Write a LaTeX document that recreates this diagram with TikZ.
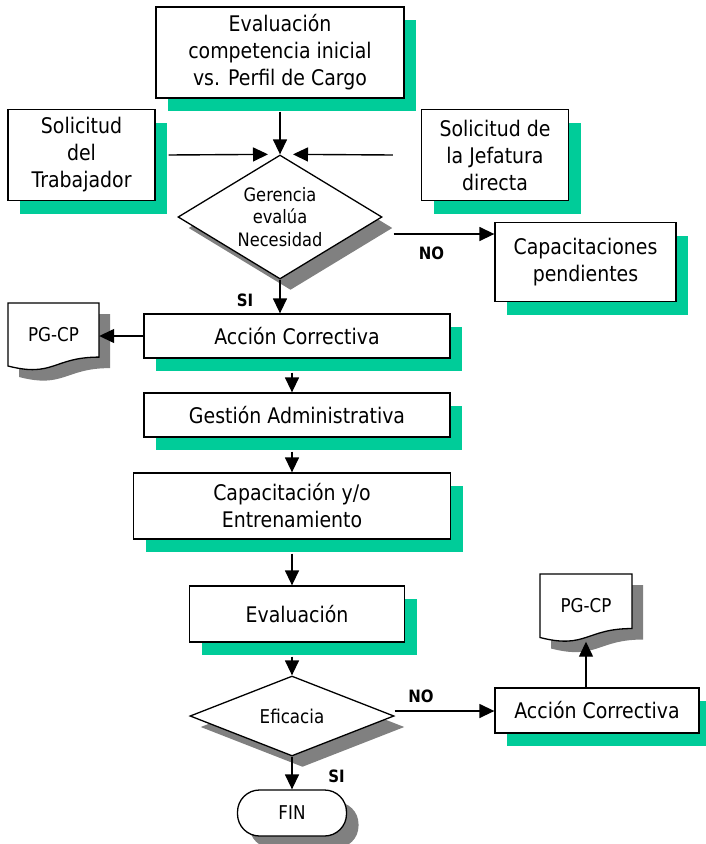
\documentclass[tikz,border=0pt]{standalone}
\usepackage{fontspec}
\setmainfont{DejaVu Sans}[FakeStretch=0.88]
\usetikzlibrary{shapes.geometric,shadows,arrows.meta,calc}
\definecolor{shgreen}{RGB}{0,204,153}
\definecolor{shgray}{RGB}{128,128,128}
\newcommand\mainsz{\fontsize{21.5}{27}\selectfont}
\newcommand\smallsz{\fontsize{19}{22.5}\selectfont}
\newcommand\labsz{\fontsize{17}{20}\selectfont\bfseries}
% document shape: x0, y0 (top left), width, height of left side
\newcommand\docpath[4]{(#1,#2) -- ({#1+#3},#2) -- ({#1+#3},{#2+0.8587*#4}) .. controls ({#1+#3/2},{#2+0.8587*#4}) and ({#1+#3/2},{#2+1.1863*#4}) .. (#1,{#2+#4}) -- cycle}
\tikzset{
  box/.style={draw=black, line width=1.3pt, fill=white, align=center, inner sep=0pt, font=\mainsz,
    drop shadow={fill=shgreen, opacity=1, shadow xshift=12pt, shadow yshift=-13pt}},
  decision/.style={diamond, draw=black, line width=1.3pt, fill=white, align=center, inner sep=0pt, font=\smallsz,
    drop shadow={fill=shgray, opacity=1, shadow xshift=10.5pt, shadow yshift=-11pt}},
  terminal/.style={draw=black, line width=1.3pt, fill=white, rounded corners=22pt, inner sep=0pt, font=\smallsz,
    drop shadow={fill=shgray, opacity=1, shadow xshift=12pt, shadow yshift=-12pt}},
  docst/.style={draw=black, line width=1.3pt, fill=white},
  docsh/.style={fill=shgray},
  doctext/.style={inner sep=0pt, font=\smallsz},
  arr/.style={-{Triangle[length=15pt,width=14pt]}, line width=1.4pt},
  lab/.style={inner sep=0pt, font=\labsz}
}
\begin{document}
\begin{tikzpicture}[x=1pt,y=-1pt]
\useasboundingbox (0,0) rectangle (705,844);

% top section
\node[box, minimum width=248pt, minimum height=91pt] (top) at (280,52.5) {Evaluación\\competencia inicial\\vs. Perfil de Cargo};
\node[box, minimum width=147pt, minimum height=91pt] (trab) at (81.5,155) {Solicitud\\del\\Trabajador};
\node[box, minimum width=147pt, minimum height=91pt] (jef) at (495,155) {Solicitud de\\la Jefatura\\directa};
\node[decision, aspect=1.645, minimum width=204pt, minimum height=124pt, font=\fontsize{18.5}{22.5}\selectfont] (ger) at (280,217) {Gerencia\\evalúa\\Necesidad};
\node[box, minimum width=181pt, minimum height=79pt] (pend) at (585.5,262) {Capacitaciones\\pendientes};

% main column
\node[box, minimum width=306pt, minimum height=44pt] (ac1) at (297,336) {Acción Correctiva};
\node[box, minimum width=306pt, minimum height=44pt] (gest) at (297,415) {Gestión Administrativa};
\node[box, minimum width=317pt, minimum height=66pt] (capac) at (292,506) {Capacitación y/o\\Entrenamiento};
\node[box, minimum width=215pt, minimum height=56pt] (eval) at (297,614) {Evaluación};
\node[decision, aspect=2.55, minimum width=204pt, minimum height=80pt] (efic) at (292,716) {Eficacia};
\node[box, minimum width=204pt, minimum height=45pt] (ac2) at (597,710.5) {Acción Correctiva};
\node[terminal, minimum width=109pt, minimum height=46pt] (fin) at (292,813) {FIN};

% documents
\fill[docsh, shift={(11,11)}] \docpath{8}{303}{91}{63};
\draw[docst] \docpath{8}{303}{91}{63};
\node[doctext, minimum width=91pt, minimum height=63pt] (pg1) at (53.5,334.5) {PG-CP};
\fill[docsh, shift={(11,11)}] \docpath{540}{574}{92}{63.5};
\draw[docst] \docpath{540}{574}{92}{63.5};
\node[doctext, minimum width=92pt, minimum height=63.5pt] (pg2) at (586,605.75) {PG-CP};

% connectors
\draw[arr] ([yshift=-13pt]top.south) -- (ger.north);
\draw[arr] ([xshift=13pt]trab.east) -- ([xshift=-12pt]ger.north);
\draw[arr] ([xshift=-28pt]jef.west) -- ([xshift=13pt]ger.north);
\coordinate (gno) at ([xshift=11pt,yshift=-17pt]ger.east);
\draw[arr] (gno) -- (gno -| pend.west);
\draw[arr] (ger.south) -- (ger.south |- ac1.north);
\draw[arr] (ac1.west) -- (ac1.west -| pg1.east);
\draw[arr] ([xshift=-5pt,yshift=-14pt]ac1.south) -- ([xshift=-5pt]gest.north);
\draw[arr] ([xshift=-5pt,yshift=-14pt]gest.south) -- (capac.north);
\draw[arr] ([yshift=-14pt]capac.south) -- ([xshift=-5pt]eval.north);
\draw[arr] ([xshift=-5pt,yshift=-14pt]eval.south) -- (efic.north);
\coordinate (eno) at ([yshift=5pt]efic.east);
\draw[arr] (eno) -- (eno -| ac2.west);
\draw[arr] (pg2.south |- ac2.north) -- ([yshift=-4pt]pg2.south);
\draw[arr] (efic.south) -- (fin.north);

% labels
\node[lab] (no1) at (431.5,253) {NO};
\node[lab] (si1) at (245,300) {SI};
\node[lab] (no2) at (421,696) {NO};
\node[lab] (si2) at (336.5,776) {SI};
\end{tikzpicture}
\end{document}
